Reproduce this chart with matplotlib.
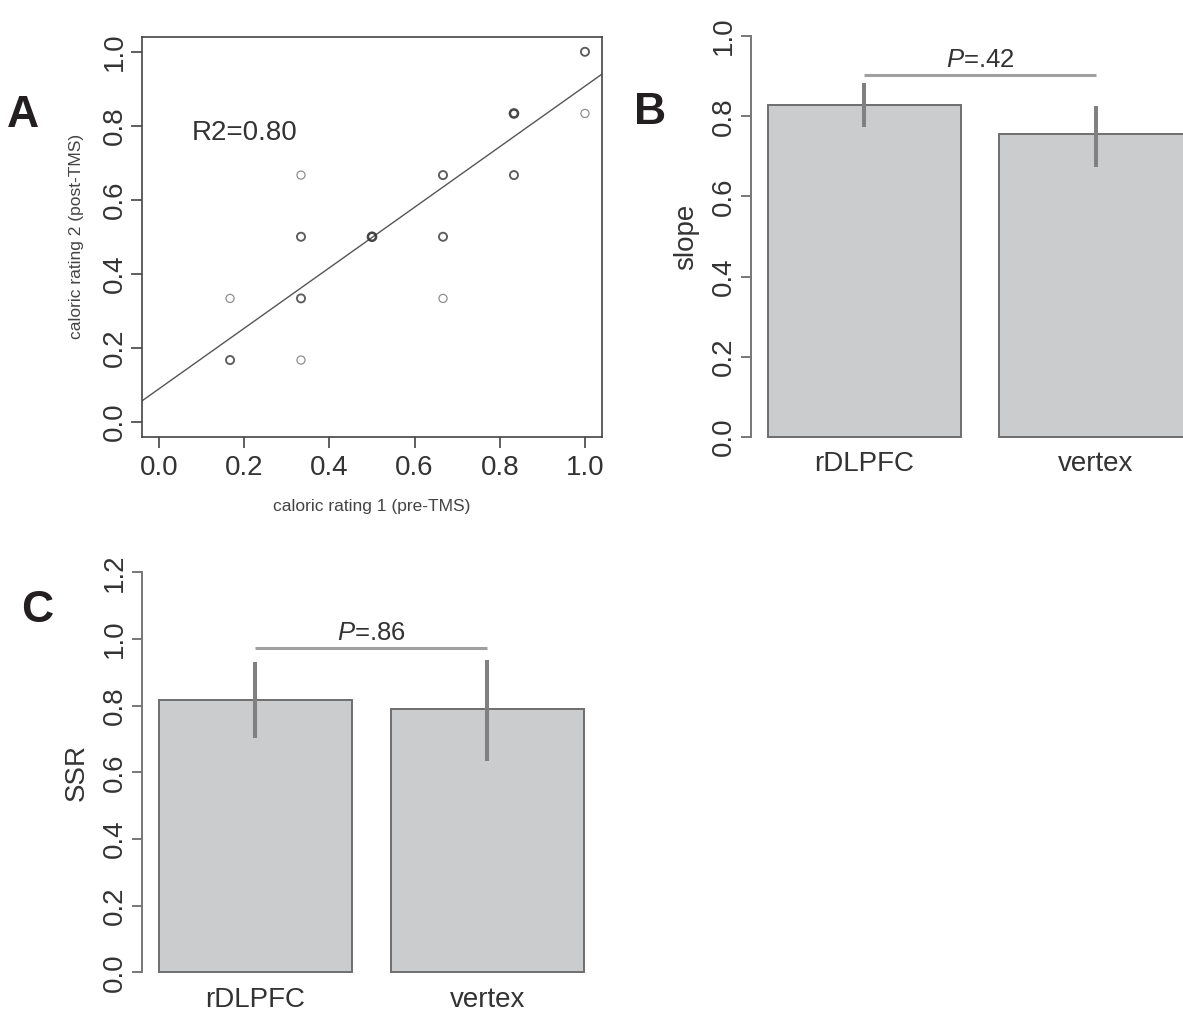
import matplotlib
matplotlib.use("Agg")
import matplotlib.pyplot as plt
import numpy as np

# panel A: caloric ratings before / after TMS (n_obs = overlapping points)
rating_pre = [0.1667, 0.1667, 0.3333, 0.3333, 0.3333, 0.3333, 0.5, 0.6667, 0.6667, 0.6667, 0.8333, 0.8333, 1.0, 1.0]
rating_post = [0.1667, 0.3333, 0.6667, 0.5, 0.3333, 0.1667, 0.5, 0.6667, 0.5, 0.3333, 0.8333, 0.6667, 1.0, 0.8333]
n_obs = [2, 1, 1, 2, 2, 1, 3, 2, 2, 1, 3, 2, 2, 1]
fit_intercept = 0.089
fit_slope = 0.818
r2_text = "R2=0.80"

# panels B and C: bar means with error bars
groups = ["rDLPFC", "vertex"]
slope_mean = [0.828, 0.756]
slope_lo = [0.773, 0.674]
slope_hi = [0.884, 0.826]
slope_p = ".42"
ssr_mean = [0.818, 0.789]
ssr_lo = [0.703, 0.634]
ssr_hi = [0.931, 0.938]
ssr_p = ".86"

plt.rcParams['font.family'] = ['Liberation Sans', 'DejaVu Sans']
plt.rcParams['mathtext.fontset'] = 'custom'
plt.rcParams['mathtext.it'] = 'Liberation Sans:italic'
plt.rcParams['mathtext.rm'] = 'Liberation Sans'

W, H = 1183, 1013
fig = plt.figure(figsize=(W / 100, H / 100), dpi=100)


def px_axes(left, top, right, bottom):
    return fig.add_axes([left / W, 1 - bottom / H, (right - left) / W, (bottom - top) / H])


TXT = '#333333'
AX_GREY = '#777777'


def rotate_yticklabels(ax):
    for lab in ax.get_yticklabels():
        lab.set_rotation(90)
        lab.set_va('center')


# ---- A: scatter + fit line
axA = px_axes(142, 37, 602, 436.5)
axA.set_xlim(-0.04, 1.04)
axA.set_ylim(-0.04, 1.04)
counts = np.array(n_obs)
# overlapping observations print darker and heavier
edge_alpha = 1 - 0.45 ** counts
edge_cols = [(0.2, 0.2, 0.2, a) for a in edge_alpha]
axA.scatter(rating_pre, rating_post, s=34, facecolors='none', edgecolors=edge_cols,
            linewidths=0.9 + 0.45 * (counts - 1), zorder=3)
line_x = np.array(axA.get_xlim())
axA.plot(line_x, fit_intercept + fit_slope * line_x, color='#555555', lw=1.0)
axA.text(0.2, 0.78, r2_text, fontsize=20, color=TXT, ha='center', va='center')
ticks = np.arange(0, 1.01, 0.2)
axA.set_xticks(ticks)
axA.set_yticks(ticks)
axA.set_xticklabels([f"{t:.1f}" for t in ticks])
axA.set_yticklabels([f"{t:.1f}" for t in ticks])
for sp in axA.spines.values():
    sp.set_color('#444444')
    sp.set_linewidth(1.2)
axA.tick_params(length=7.7, width=1.2, color='#444444', labelsize=20, labelcolor=TXT)
axA.tick_params(axis='x', pad=5.5)
axA.tick_params(axis='y', pad=2.4)
rotate_yticklabels(axA)
fig.text(372 / W, 1 - 507 / H, "caloric rating 1 (pre-TMS)", fontsize=12.5, color='#444444', ha='center', va='center')
fig.text(77 / W, 1 - 236.5 / H, "caloric rating 2 (post-TMS)", fontsize=12.5, color='#444444',
         ha='center', va='center', rotation=90)


# ---- B and C: bar panels
def bar_panel(ax, means, lo, hi, p_txt, ymax, bracket_y, ylabel, label_x_px, label_y_px):
    pos = [0.7, 1.9]
    ax.set_xlim(0.112, 2.488)
    ax.set_ylim(-0.04 * ymax, 1.04 * ymax)
    ax.bar(pos, means, width=1.0, color='#cbcccd', edgecolor='#6e6e6e', linewidth=1.4, zorder=2)
    ax.vlines(pos, lo, hi, color='#808080', lw=2.9, zorder=3)
    ax.plot(pos, [bracket_y, bracket_y], color='#a0a0a0', lw=2.2, solid_capstyle='butt')
    ax.text(np.mean(pos), bracket_y + 0.02 * ymax, r'$\mathit{P}$=' + p_txt, fontsize=18.5,
            color=TXT, ha='center', va='baseline')
    for sp in ['top', 'right', 'bottom']:
        ax.spines[sp].set_visible(False)
    ax.spines['left'].set_bounds(0, ymax)
    ax.spines['left'].set_color(AX_GREY)
    ax.spines['left'].set_linewidth(1.4)
    yt = np.arange(0, ymax + 0.01, 0.2)
    ax.set_yticks(yt)
    ax.set_yticklabels([f"{t:.1f}" for t in yt])
    ax.tick_params(axis='y', length=7.5, width=1.4, color=AX_GREY, labelsize=20, labelcolor=TXT, pad=2.4)
    rotate_yticklabels(ax)
    ax.set_xticks([])
    for x, g in zip(pos, groups):
        ax.annotate(g, xy=(x, 0), xytext=(0, -24.5), textcoords='offset points',
                    fontsize=20, color=TXT, ha='center', va='baseline', annotation_clip=False)
    fig.text(label_x_px / W, 1 - label_y_px / H, ylabel, fontsize=20, color=TXT,
             ha='center', va='center', rotation=90)


axB = px_axes(750.7, 20, 1209.6, 453)
bar_panel(axB, slope_mean, slope_lo, slope_hi, slope_p, 1.0, 0.902, "slope", 686, 236.5)

axC = px_axes(141.7, 556.3, 600.7, 988.5)
bar_panel(axC, ssr_mean, ssr_lo, ssr_hi, ssr_p, 1.2, 0.972, "SSR", 77, 772.4)

# panel letters
for letter, x, y in [("A", 7, 127), ("B", 634, 124), ("C", 21, 622)]:
    fig.text(x / W, 1 - y / H, letter, fontsize=32, fontweight='bold', color='#231f20',
             ha='left', va='baseline')

fig.savefig("out.png", dpi=100)
